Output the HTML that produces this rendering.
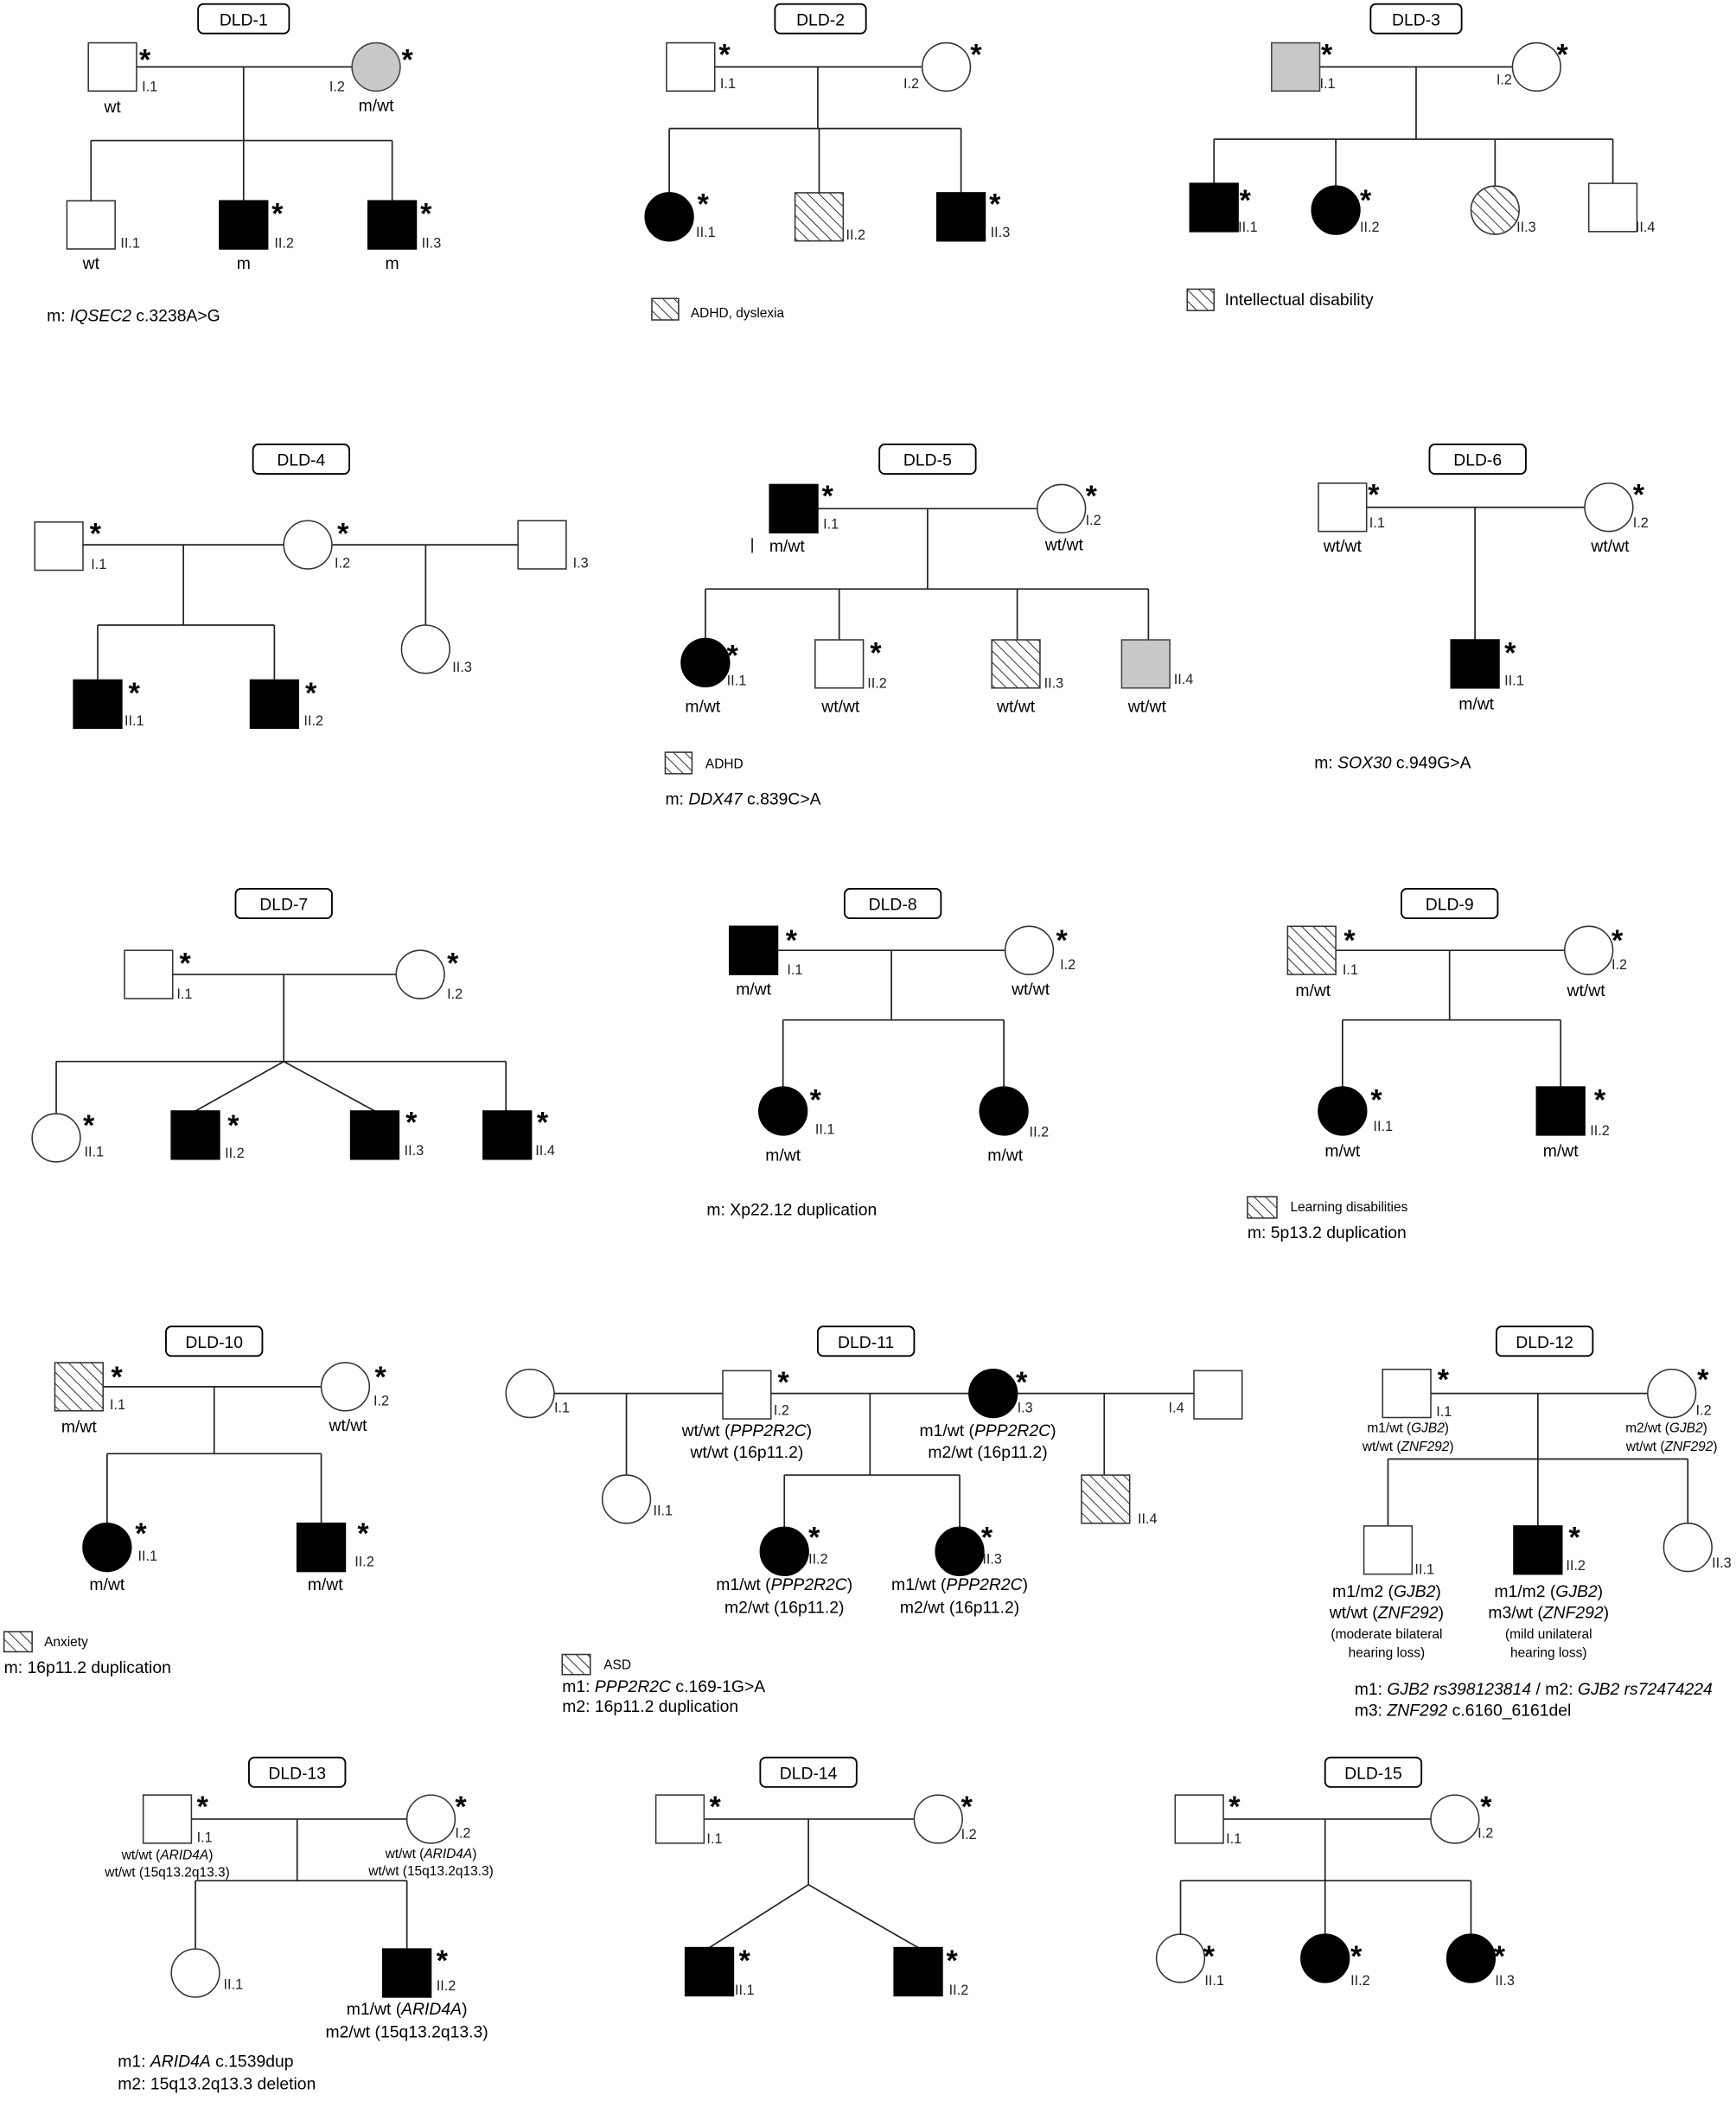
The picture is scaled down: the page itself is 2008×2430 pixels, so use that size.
<!DOCTYPE html>
<html><head><meta charset="utf-8">
<style>
html,body{margin:0;padding:0;background:#fff;}
svg{display:block;}
text{font-family:"Liberation Sans",Arial,sans-serif;fill:#000;}
.s{font-size:10.5px;fill:#222;}
.g{font-size:12.5px;}
.t{font-size:10px;}
.st{font-size:22px;font-weight:bold;}
.f{font-size:12.5px;}
.b{font-size:12.5px;}
line,path.l{stroke:#222;stroke-width:1.1;fill:none;}
rect.w,circle.w{fill:#fff;stroke:#333;stroke-width:1;}
rect.k,circle.k{fill:#000;stroke:#000;}
rect.gr,circle.gr{fill:#c8c8c8;stroke:#444;stroke-width:1;}
rect.h,circle.h{fill:url(#hatch);stroke:#333;stroke-width:1;}
rect.box{fill:#fff;stroke:#000;stroke-width:1.2;}
</style></head><body>
<svg width="2008" height="2430" viewBox="0 0 1297 1569.6" preserveAspectRatio="none" xmlns="http://www.w3.org/2000/svg">
<defs>
<pattern id="hatch" patternUnits="userSpaceOnUse" width="6" height="6" patternTransform="rotate(-45)">
<rect width="6" height="6" fill="#fff"/><line x1="0" y1="0" x2="0" y2="6" style="stroke:#111;stroke-width:1.1"/>
</pattern>
</defs>

<!-- DLD-1 -->
<rect class="box" x="148" y="3" width="68" height="22" rx="4"/><text class="b" x="182" y="19" text-anchor="middle">DLD-1</text>
<line x1="102" y1="50" x2="263" y2="50"/><line x1="182" y1="50" x2="182" y2="105"/>
<line x1="68" y1="105" x2="293" y2="105"/><line x1="68" y1="105" x2="68" y2="150"/><line x1="182" y1="105" x2="182" y2="150"/><line x1="293" y1="105" x2="293" y2="150"/>
<rect class="w" x="66" y="32" width="36" height="36"/><text class="st" x="104" y="52">*</text><text class="s" x="106" y="68">I.1</text><text class="g" x="84" y="84" text-anchor="middle">wt</text>
<circle class="gr" cx="281" cy="50" r="18"/><text class="st" x="300" y="52">*</text><text class="s" x="246" y="68">I.2</text><text class="g" x="281" y="83" text-anchor="middle">m/wt</text>
<rect class="w" x="50" y="150" width="36" height="36"/><text class="s" x="90" y="185">II.1</text><text class="g" x="68" y="201" text-anchor="middle">wt</text>
<rect class="k" x="164" y="150" width="36" height="36"/><text class="st" x="203" y="167">*</text><text class="s" x="205" y="185">II.2</text><text class="g" x="182" y="201" text-anchor="middle">m</text>
<rect class="k" x="275" y="150" width="36" height="36"/><text class="st" x="314" y="167">*</text><text class="s" x="315" y="185">II.3</text><text class="g" x="293" y="201" text-anchor="middle">m</text>
<text class="f" x="35" y="240">m: <tspan font-style="italic">IQSEC2</tspan> c.3238A&gt;G</text>

<!-- DLD-2 -->
<rect class="box" x="579" y="3" width="68" height="22" rx="4"/><text class="b" x="613" y="19" text-anchor="middle">DLD-2</text>
<line x1="534" y1="50" x2="689" y2="50"/><line x1="611" y1="50" x2="611" y2="96"/>
<line x1="500" y1="96" x2="718" y2="96"/><line x1="500" y1="96" x2="500" y2="144"/><line x1="612" y1="96" x2="612" y2="144"/><line x1="718" y1="96" x2="718" y2="144"/>
<rect class="w" x="498" y="32" width="36" height="36"/><text class="st" x="537" y="48">*</text><text class="s" x="538" y="66">I.1</text>
<circle class="w" cx="707" cy="50" r="18"/><text class="st" x="725" y="48">*</text><text class="s" x="675" y="66">I.2</text>
<circle class="k" cx="500" cy="162" r="18"/><text class="st" x="521" y="160">*</text><text class="s" x="520" y="177">II.1</text>
<rect class="h" x="594" y="144" width="36" height="36"/><text class="s" x="632" y="179">II.2</text>
<rect class="k" x="700" y="144" width="36" height="36"/><text class="st" x="739" y="160">*</text><text class="s" x="740" y="177">II.3</text>
<rect class="h" x="487" y="223" width="20" height="16"/><text class="t" x="516" y="237">ADHD, dyslexia</text>

<!-- DLD-3 -->
<rect class="box" x="1024" y="3" width="68" height="22" rx="4"/><text class="b" x="1058" y="19" text-anchor="middle">DLD-3</text>
<line x1="986" y1="50" x2="1130" y2="50"/><line x1="1058" y1="50" x2="1058" y2="104"/>
<line x1="907" y1="104" x2="1205" y2="104"/><line x1="907" y1="104" x2="907" y2="137"/><line x1="998" y1="104" x2="998" y2="139"/><line x1="1117" y1="104" x2="1117" y2="139"/><line x1="1205" y1="104" x2="1205" y2="137"/>
<rect class="gr" x="950" y="32" width="36" height="36"/><text class="st" x="987" y="48">*</text><text class="s" x="986" y="66">I.1</text>
<circle class="w" cx="1148" cy="50" r="18"/><text class="st" x="1163" y="48">*</text><text class="s" x="1118" y="63">I.2</text>
<rect class="k" x="889" y="137" width="36" height="36"/><text class="st" x="926" y="157">*</text><text class="s" x="925" y="173">II.1</text>
<circle class="k" cx="998" cy="157" r="18"/><text class="st" x="1016" y="157">*</text><text class="s" x="1016" y="173">II.2</text>
<circle class="h" cx="1117" cy="157" r="18"/><text class="s" x="1133" y="173">II.3</text>
<rect class="w" x="1187" y="137" width="36" height="36"/><text class="s" x="1222" y="173">II.4</text>
<rect class="h" x="887" y="216" width="20" height="16"/><text class="g" x="915" y="228">Intellectual disability</text>

<!-- DLD-4 -->
<rect class="box" x="189" y="332" width="72" height="22" rx="4"/><text class="b" x="225" y="348" text-anchor="middle">DLD-4</text>
<line x1="62" y1="407" x2="212" y2="407"/><line x1="248" y1="407" x2="387" y2="407"/>
<line x1="137" y1="407" x2="137" y2="467"/><line x1="73" y1="467" x2="205" y2="467"/><line x1="73" y1="467" x2="73" y2="508"/><line x1="205" y1="467" x2="205" y2="508"/>
<line x1="318" y1="407" x2="318" y2="467"/>
<rect class="w" x="26" y="390" width="36" height="36"/><text class="st" x="67" y="406">*</text><text class="s" x="68" y="425">I.1</text>
<circle class="w" cx="230" cy="407" r="18"/><text class="st" x="252" y="406">*</text><text class="s" x="250" y="424">I.2</text>
<rect class="w" x="387" y="389" width="36" height="36"/><text class="s" x="428" y="424">I.3</text>
<rect class="k" x="55" y="508" width="36" height="36"/><text class="st" x="96" y="525">*</text><text class="s" x="93" y="542">II.1</text>
<rect class="k" x="187" y="508" width="36" height="36"/><text class="st" x="228" y="525">*</text><text class="s" x="227" y="542">II.2</text>
<circle class="w" cx="318" cy="485" r="18"/><text class="s" x="338" y="502">II.3</text>

<!-- DLD-5 -->
<rect class="box" x="657" y="332" width="72" height="22" rx="4"/><text class="b" x="693" y="348" text-anchor="middle">DLD-5</text>
<line x1="611" y1="380" x2="775" y2="380"/><line x1="693" y1="380" x2="693" y2="440"/>
<line x1="527" y1="440" x2="858" y2="440"/><line x1="527" y1="440" x2="527" y2="477"/><line x1="627" y1="440" x2="627" y2="478"/><line x1="760" y1="440" x2="760" y2="478"/><line x1="858" y1="440" x2="858" y2="478"/>
<line x1="562" y1="402" x2="562" y2="413"/>
<rect class="k" x="575" y="362" width="36" height="36"/><text class="st" x="614" y="378">*</text><text class="s" x="615" y="395">I.1</text><text class="g" x="588" y="412" text-anchor="middle">m/wt</text>
<circle class="w" cx="793" cy="380" r="18"/><text class="st" x="811" y="378">*</text><text class="s" x="811" y="392">I.2</text><text class="g" x="795" y="411" text-anchor="middle">wt/wt</text>
<circle class="k" cx="527" cy="495" r="18"/><text class="st" x="543" y="497">*</text><text class="s" x="543" y="512">II.1</text><text class="g" x="525" y="532" text-anchor="middle">m/wt</text>
<rect class="w" x="609" y="478" width="36" height="36"/><text class="st" x="650" y="495">*</text><text class="s" x="648" y="514">II.2</text><text class="g" x="628" y="532" text-anchor="middle">wt/wt</text>
<rect class="h" x="741" y="478" width="36" height="36"/><text class="s" x="780" y="514">II.3</text><text class="g" x="759" y="532" text-anchor="middle">wt/wt</text>
<rect class="gr" x="838" y="478" width="36" height="36"/><text class="s" x="877" y="511">II.4</text><text class="g" x="857" y="532" text-anchor="middle">wt/wt</text>
<rect class="h" x="497" y="562" width="20" height="16"/><text class="t" x="527" y="574">ADHD</text>
<text class="f" x="497" y="601">m: <tspan font-style="italic">DDX47</tspan> c.839C&gt;A</text>

<!-- DLD-6 -->
<rect class="box" x="1068" y="332" width="72" height="22" rx="4"/><text class="b" x="1104" y="348" text-anchor="middle">DLD-6</text>
<line x1="1021" y1="379" x2="1184" y2="379"/><line x1="1102" y1="379" x2="1102" y2="478"/>
<rect class="w" x="985" y="361" width="36" height="36"/><text class="st" x="1022" y="377">*</text><text class="s" x="1023" y="394">I.1</text><text class="g" x="1003" y="412" text-anchor="middle">wt/wt</text>
<circle class="w" cx="1202" cy="379" r="18"/><text class="st" x="1220" y="377">*</text><text class="s" x="1220" y="394">I.2</text><text class="g" x="1203" y="412" text-anchor="middle">wt/wt</text>
<rect class="k" x="1084" y="478" width="36" height="36"/><text class="st" x="1124" y="495">*</text><text class="s" x="1124" y="512">II.1</text><text class="g" x="1103" y="530" text-anchor="middle">m/wt</text>
<text class="f" x="982" y="574">m: <tspan font-style="italic">SOX30</tspan> c.949G&gt;A</text>

<!-- DLD-7 -->
<rect class="box" x="176" y="664" width="72" height="22" rx="4"/><text class="b" x="212" y="680" text-anchor="middle">DLD-7</text>
<line x1="129" y1="728" x2="296" y2="728"/><line x1="212" y1="728" x2="212" y2="793"/>
<line x1="42" y1="793" x2="378" y2="793"/><line x1="42" y1="793" x2="42" y2="832"/><line x1="378" y1="793" x2="378" y2="830"/>
<line x1="212" y1="793" x2="146" y2="830"/><line x1="212" y1="793" x2="280" y2="830"/>
<rect class="w" x="93" y="710" width="36" height="36"/><text class="st" x="134" y="727">*</text><text class="s" x="132" y="746">I.1</text>
<circle class="w" cx="314" cy="728" r="18"/><text class="st" x="334" y="727">*</text><text class="s" x="334" y="746">I.2</text>
<circle class="w" cx="42" cy="850" r="18"/><text class="st" x="62" y="848">*</text><text class="s" x="63" y="864">II.1</text>
<rect class="k" x="128" y="830" width="36" height="36"/><text class="st" x="170" y="848">*</text><text class="s" x="168" y="865">II.2</text>
<rect class="k" x="262" y="830" width="36" height="36"/><text class="st" x="303" y="846">*</text><text class="s" x="302" y="863">II.3</text>
<rect class="k" x="361" y="830" width="36" height="36"/><text class="st" x="401" y="846">*</text><text class="s" x="400" y="863">II.4</text>

<!-- DLD-8 -->
<rect class="box" x="631" y="664" width="72" height="22" rx="4"/><text class="b" x="667" y="680" text-anchor="middle">DLD-8</text>
<line x1="581" y1="710" x2="751" y2="710"/><line x1="666" y1="710" x2="666" y2="762"/>
<line x1="585" y1="762" x2="750" y2="762"/><line x1="585" y1="762" x2="585" y2="812"/><line x1="750" y1="762" x2="750" y2="812"/>
<rect class="k" x="545" y="692" width="36" height="36"/><text class="st" x="587" y="710">*</text><text class="s" x="588" y="728">I.1</text><text class="g" x="563" y="743" text-anchor="middle">m/wt</text>
<circle class="w" cx="769" cy="710" r="18"/><text class="st" x="789" y="710">*</text><text class="s" x="792" y="724">I.2</text><text class="g" x="770" y="743" text-anchor="middle">wt/wt</text>
<circle class="k" cx="585" cy="830" r="18"/><text class="st" x="605" y="829">*</text><text class="s" x="609" y="847">II.1</text><text class="g" x="585" y="867" text-anchor="middle">m/wt</text>
<circle class="k" cx="750" cy="830" r="18"/><text class="s" x="769" y="849">II.2</text><text class="g" x="751" y="867" text-anchor="middle">m/wt</text>
<text class="f" x="528" y="908">m: Xp22.12 duplication</text>

<!-- DLD-9 -->
<rect class="box" x="1047" y="664" width="72" height="22" rx="4"/><text class="b" x="1083" y="680" text-anchor="middle">DLD-9</text>
<line x1="998" y1="710" x2="1169" y2="710"/><line x1="1083" y1="710" x2="1083" y2="762"/>
<line x1="1003" y1="762" x2="1166" y2="762"/><line x1="1003" y1="762" x2="1003" y2="812"/><line x1="1166" y1="762" x2="1166" y2="812"/>
<rect class="h" x="962" y="692" width="36" height="36"/><text class="st" x="1004" y="710">*</text><text class="s" x="1003" y="728">I.1</text><text class="g" x="981" y="744" text-anchor="middle">m/wt</text>
<circle class="w" cx="1187" cy="710" r="18"/><text class="st" x="1204" y="710">*</text><text class="s" x="1204" y="724">I.2</text><text class="g" x="1185" y="744" text-anchor="middle">wt/wt</text>
<circle class="k" cx="1003" cy="830" r="18"/><text class="st" x="1024" y="829">*</text><text class="s" x="1026" y="845">II.1</text><text class="g" x="1003" y="864" text-anchor="middle">m/wt</text>
<rect class="k" x="1148" y="812" width="36" height="36"/><text class="st" x="1191" y="829">*</text><text class="s" x="1188" y="848">II.2</text><text class="g" x="1166" y="864" text-anchor="middle">m/wt</text>
<rect class="h" x="932" y="894" width="22" height="16"/><text class="t" x="964" y="905">Learning disabilities</text>
<text class="f" x="932" y="925">m: 5p13.2 duplication</text>

<!-- DLD-10 -->
<rect class="box" x="124" y="991" width="72" height="22" rx="4"/><text class="b" x="160" y="1007" text-anchor="middle">DLD-10</text>
<line x1="77" y1="1036" x2="240" y2="1036"/><line x1="160" y1="1036" x2="160" y2="1086"/>
<line x1="80" y1="1086" x2="240" y2="1086"/><line x1="80" y1="1086" x2="80" y2="1138"/><line x1="240" y1="1086" x2="240" y2="1138"/>
<rect class="h" x="41" y="1018" width="36" height="36"/><text class="st" x="83" y="1036">*</text><text class="s" x="82" y="1053">I.1</text><text class="g" x="59" y="1070" text-anchor="middle">m/wt</text>
<circle class="w" cx="258" cy="1036" r="18"/><text class="st" x="280" y="1036">*</text><text class="s" x="279" y="1050">I.2</text><text class="g" x="260" y="1069" text-anchor="middle">wt/wt</text>
<circle class="k" cx="80" cy="1156" r="18"/><text class="st" x="101" y="1153">*</text><text class="s" x="103" y="1166">II.1</text><text class="g" x="80" y="1188" text-anchor="middle">m/wt</text>
<rect class="k" x="222" y="1138" width="36" height="36"/><text class="st" x="267" y="1153">*</text><text class="s" x="265" y="1170">II.2</text><text class="g" x="243" y="1188" text-anchor="middle">m/wt</text>
<rect class="h" x="3" y="1219" width="21" height="15"/><text class="t" x="33" y="1230">Anxiety</text>
<text class="f" x="3" y="1250">m: 16p11.2 duplication</text>

<!-- DLD-11 -->
<rect class="box" x="611" y="991" width="72" height="22" rx="4"/><text class="b" x="647" y="1007" text-anchor="middle">DLD-11</text>
<line x1="414" y1="1041" x2="540" y2="1041"/><line x1="576" y1="1041" x2="724" y2="1041"/><line x1="760" y1="1041" x2="892" y2="1041"/>
<line x1="468" y1="1041" x2="468" y2="1102"/><line x1="650" y1="1041" x2="650" y2="1102"/>
<line x1="586" y1="1102" x2="717" y2="1102"/><line x1="586" y1="1102" x2="586" y2="1141"/><line x1="717" y1="1102" x2="717" y2="1141"/>
<line x1="825" y1="1041" x2="825" y2="1102"/>
<circle class="w" cx="396" cy="1041" r="18"/><text class="s" x="414" y="1055">I.1</text>
<rect class="w" x="540" y="1024" width="36" height="36"/><text class="st" x="581" y="1040">*</text><text class="s" x="578" y="1057">I.2</text>
<text class="g" x="558" y="1073" text-anchor="middle">wt/wt (<tspan font-style="italic">PPP2R2C</tspan>)</text><text class="g" x="558" y="1089" text-anchor="middle">wt/wt (16p11.2)</text>
<circle class="k" cx="742" cy="1041" r="18"/><text class="st" x="759" y="1040">*</text><text class="s" x="760" y="1055">I.3</text>
<text class="g" x="738" y="1073" text-anchor="middle">m1/wt (<tspan font-style="italic">PPP2R2C</tspan>)</text><text class="g" x="738" y="1089" text-anchor="middle">m2/wt (16p11.2)</text>
<rect class="w" x="892" y="1024" width="36" height="36"/><text class="s" x="873" y="1055">I.4</text>
<circle class="w" cx="468" cy="1120" r="18"/><text class="s" x="488" y="1132">II.1</text>
<circle class="k" cx="586" cy="1159" r="18"/><text class="st" x="604" y="1156">*</text><text class="s" x="604" y="1168">II.2</text>
<text class="g" x="586" y="1188" text-anchor="middle">m1/wt (<tspan font-style="italic">PPP2R2C</tspan>)</text><text class="g" x="586" y="1205" text-anchor="middle">m2/wt (16p11.2)</text>
<circle class="k" cx="717" cy="1159" r="18"/><text class="st" x="733" y="1156">*</text><text class="s" x="734" y="1168">II.3</text>
<text class="g" x="717" y="1188" text-anchor="middle">m1/wt (<tspan font-style="italic">PPP2R2C</tspan>)</text><text class="g" x="717" y="1205" text-anchor="middle">m2/wt (16p11.2)</text>
<rect class="h" x="808" y="1102" width="36" height="36"/><text class="s" x="850" y="1138">II.4</text>
<rect class="h" x="420" y="1236" width="21" height="15"/><text class="t" x="451" y="1247">ASD</text>
<text class="f" x="420" y="1264">m1: <tspan font-style="italic">PPP2R2C</tspan> c.169-1G&gt;A</text>
<text class="f" x="420" y="1279">m2: 16p11.2 duplication</text>

<!-- DLD-12 -->
<rect class="box" x="1118" y="991" width="72" height="22" rx="4"/><text class="b" x="1154" y="1007" text-anchor="middle">DLD-12</text>
<line x1="1069" y1="1041" x2="1231" y2="1041"/><line x1="1149" y1="1041" x2="1149" y2="1090"/>
<line x1="1037" y1="1090" x2="1261" y2="1090"/><line x1="1037" y1="1090" x2="1037" y2="1140"/><line x1="1149" y1="1090" x2="1149" y2="1140"/><line x1="1261" y1="1090" x2="1261" y2="1138"/>
<rect class="w" x="1033" y="1023" width="36" height="36"/><text class="st" x="1074" y="1038">*</text><text class="s" x="1073" y="1058">I.1</text>
<text class="t" x="1052" y="1070" text-anchor="middle">m1/wt (<tspan font-style="italic">GJB2</tspan>)</text><text class="t" x="1052" y="1084" text-anchor="middle">wt/wt (<tspan font-style="italic">ZNF292</tspan>)</text>
<circle class="w" cx="1249" cy="1041" r="18"/><text class="st" x="1268" y="1038">*</text><text class="s" x="1267" y="1057">I.2</text>
<text class="t" x="1245" y="1070" text-anchor="middle">m2/wt (<tspan font-style="italic">GJB2</tspan>)</text><text class="t" x="1249" y="1084" text-anchor="middle">wt/wt (<tspan font-style="italic">ZNF292</tspan>)</text>
<rect class="w" x="1019" y="1140" width="36" height="36"/><text class="s" x="1057" y="1176">II.1</text>
<text class="g" x="1036" y="1193" text-anchor="middle">m1/m2 (<tspan font-style="italic">GJB2</tspan>)</text><text class="g" x="1036" y="1209" text-anchor="middle">wt/wt (<tspan font-style="italic">ZNF292</tspan>)</text>
<text class="t" x="1036" y="1224" text-anchor="middle">(moderate bilateral</text><text class="t" x="1036" y="1238" text-anchor="middle">hearing loss)</text>
<rect class="k" x="1131" y="1140" width="36" height="36"/><text class="st" x="1172" y="1156">*</text><text class="s" x="1170" y="1173">II.2</text>
<text class="g" x="1157" y="1193" text-anchor="middle">m1/m2 (<tspan font-style="italic">GJB2</tspan>)</text><text class="g" x="1157" y="1209" text-anchor="middle">m3/wt (<tspan font-style="italic">ZNF292</tspan>)</text>
<text class="t" x="1157" y="1224" text-anchor="middle">(mild unilateral</text><text class="t" x="1157" y="1238" text-anchor="middle">hearing loss)</text>
<circle class="w" cx="1261" cy="1156" r="18"/><text class="s" x="1279" y="1171">II.3</text>
<text class="f" x="1012" y="1266">m1: <tspan font-style="italic">GJB2 rs398123814</tspan> / m2: <tspan font-style="italic">GJB2 rs72474224</tspan></text>
<text class="f" x="1012" y="1282">m3: <tspan font-style="italic">ZNF292</tspan> c.6160_6161del</text>

<!-- DLD-13 -->
<rect class="box" x="186" y="1313" width="72" height="22" rx="4"/><text class="b" x="222" y="1329" text-anchor="middle">DLD-13</text>
<line x1="143" y1="1359" x2="304" y2="1359"/><line x1="222" y1="1359" x2="222" y2="1405"/>
<line x1="146" y1="1405" x2="304" y2="1405"/><line x1="146" y1="1405" x2="146" y2="1456"/><line x1="304" y1="1405" x2="304" y2="1456"/>
<rect class="w" x="107" y="1341" width="36" height="36"/><text class="st" x="147" y="1357">*</text><text class="s" x="147" y="1376">I.1</text>
<text class="t" x="125" y="1389" text-anchor="middle">wt/wt (<tspan font-style="italic">ARID4A</tspan>)</text><text class="t" x="125" y="1402" text-anchor="middle">wt/wt (15q13.2q13.3)</text>
<circle class="w" cx="322" cy="1359" r="18"/><text class="st" x="340" y="1357">*</text><text class="s" x="340" y="1373">I.2</text>
<text class="t" x="322" y="1388" text-anchor="middle">wt/wt (<tspan font-style="italic">ARID4A</tspan>)</text><text class="t" x="322" y="1401" text-anchor="middle">wt/wt (15q13.2q13.3)</text>
<circle class="w" cx="146" cy="1474" r="18"/><text class="s" x="167" y="1486">II.1</text>
<rect class="k" x="286" y="1456" width="36" height="36"/><text class="st" x="326" y="1472">*</text><text class="s" x="326" y="1487">II.2</text>
<text class="g" x="304" y="1505" text-anchor="middle">m1/wt (<tspan font-style="italic">ARID4A</tspan>)</text><text class="g" x="304" y="1522" text-anchor="middle">m2/wt (15q13.2q13.3)</text>
<text class="f" x="88" y="1544">m1: <tspan font-style="italic">ARID4A</tspan> c.1539dup</text>
<text class="f" x="88" y="1561">m2: 15q13.2q13.3 deletion</text>

<!-- DLD-14 -->
<rect class="box" x="568" y="1313" width="72" height="22" rx="4"/><text class="b" x="604" y="1329" text-anchor="middle">DLD-14</text>
<line x1="526" y1="1359" x2="683" y2="1359"/><line x1="604" y1="1359" x2="604" y2="1408"/>
<line x1="604" y1="1408" x2="530" y2="1455"/><line x1="604" y1="1408" x2="686" y2="1455"/>
<rect class="w" x="490" y="1341" width="36" height="36"/><text class="st" x="530" y="1357">*</text><text class="s" x="528" y="1377">I.1</text>
<circle class="w" cx="701" cy="1359" r="18"/><text class="st" x="718" y="1357">*</text><text class="s" x="718" y="1374">I.2</text>
<rect class="k" x="512" y="1455" width="36" height="36"/><text class="st" x="552" y="1472">*</text><text class="s" x="549" y="1490">II.1</text>
<rect class="k" x="668" y="1455" width="36" height="36"/><text class="st" x="707" y="1472">*</text><text class="s" x="709" y="1490">II.2</text>

<!-- DLD-15 -->
<rect class="box" x="990" y="1313" width="72" height="22" rx="4"/><text class="b" x="1026" y="1329" text-anchor="middle">DLD-15</text>
<line x1="914" y1="1359" x2="1069" y2="1359"/><line x1="990" y1="1359" x2="990" y2="1405"/>
<line x1="882" y1="1405" x2="1099" y2="1405"/><line x1="882" y1="1405" x2="882" y2="1445"/><line x1="990" y1="1405" x2="990" y2="1445"/><line x1="1099" y1="1405" x2="1099" y2="1445"/>
<rect class="w" x="878" y="1341" width="36" height="36"/><text class="st" x="918" y="1357">*</text><text class="s" x="916" y="1377">I.1</text>
<circle class="w" cx="1087" cy="1359" r="18"/><text class="st" x="1106" y="1357">*</text><text class="s" x="1104" y="1373">I.2</text>
<circle class="w" cx="882" cy="1463" r="18"/><text class="st" x="899" y="1469">*</text><text class="s" x="900" y="1483">II.1</text>
<circle class="k" cx="990" cy="1463" r="18"/><text class="st" x="1009" y="1469">*</text><text class="s" x="1009" y="1483">II.2</text>
<circle class="k" cx="1099" cy="1463" r="18"/><text class="st" x="1116" y="1469">*</text><text class="s" x="1117" y="1483">II.3</text>
</svg>
</body></html>
